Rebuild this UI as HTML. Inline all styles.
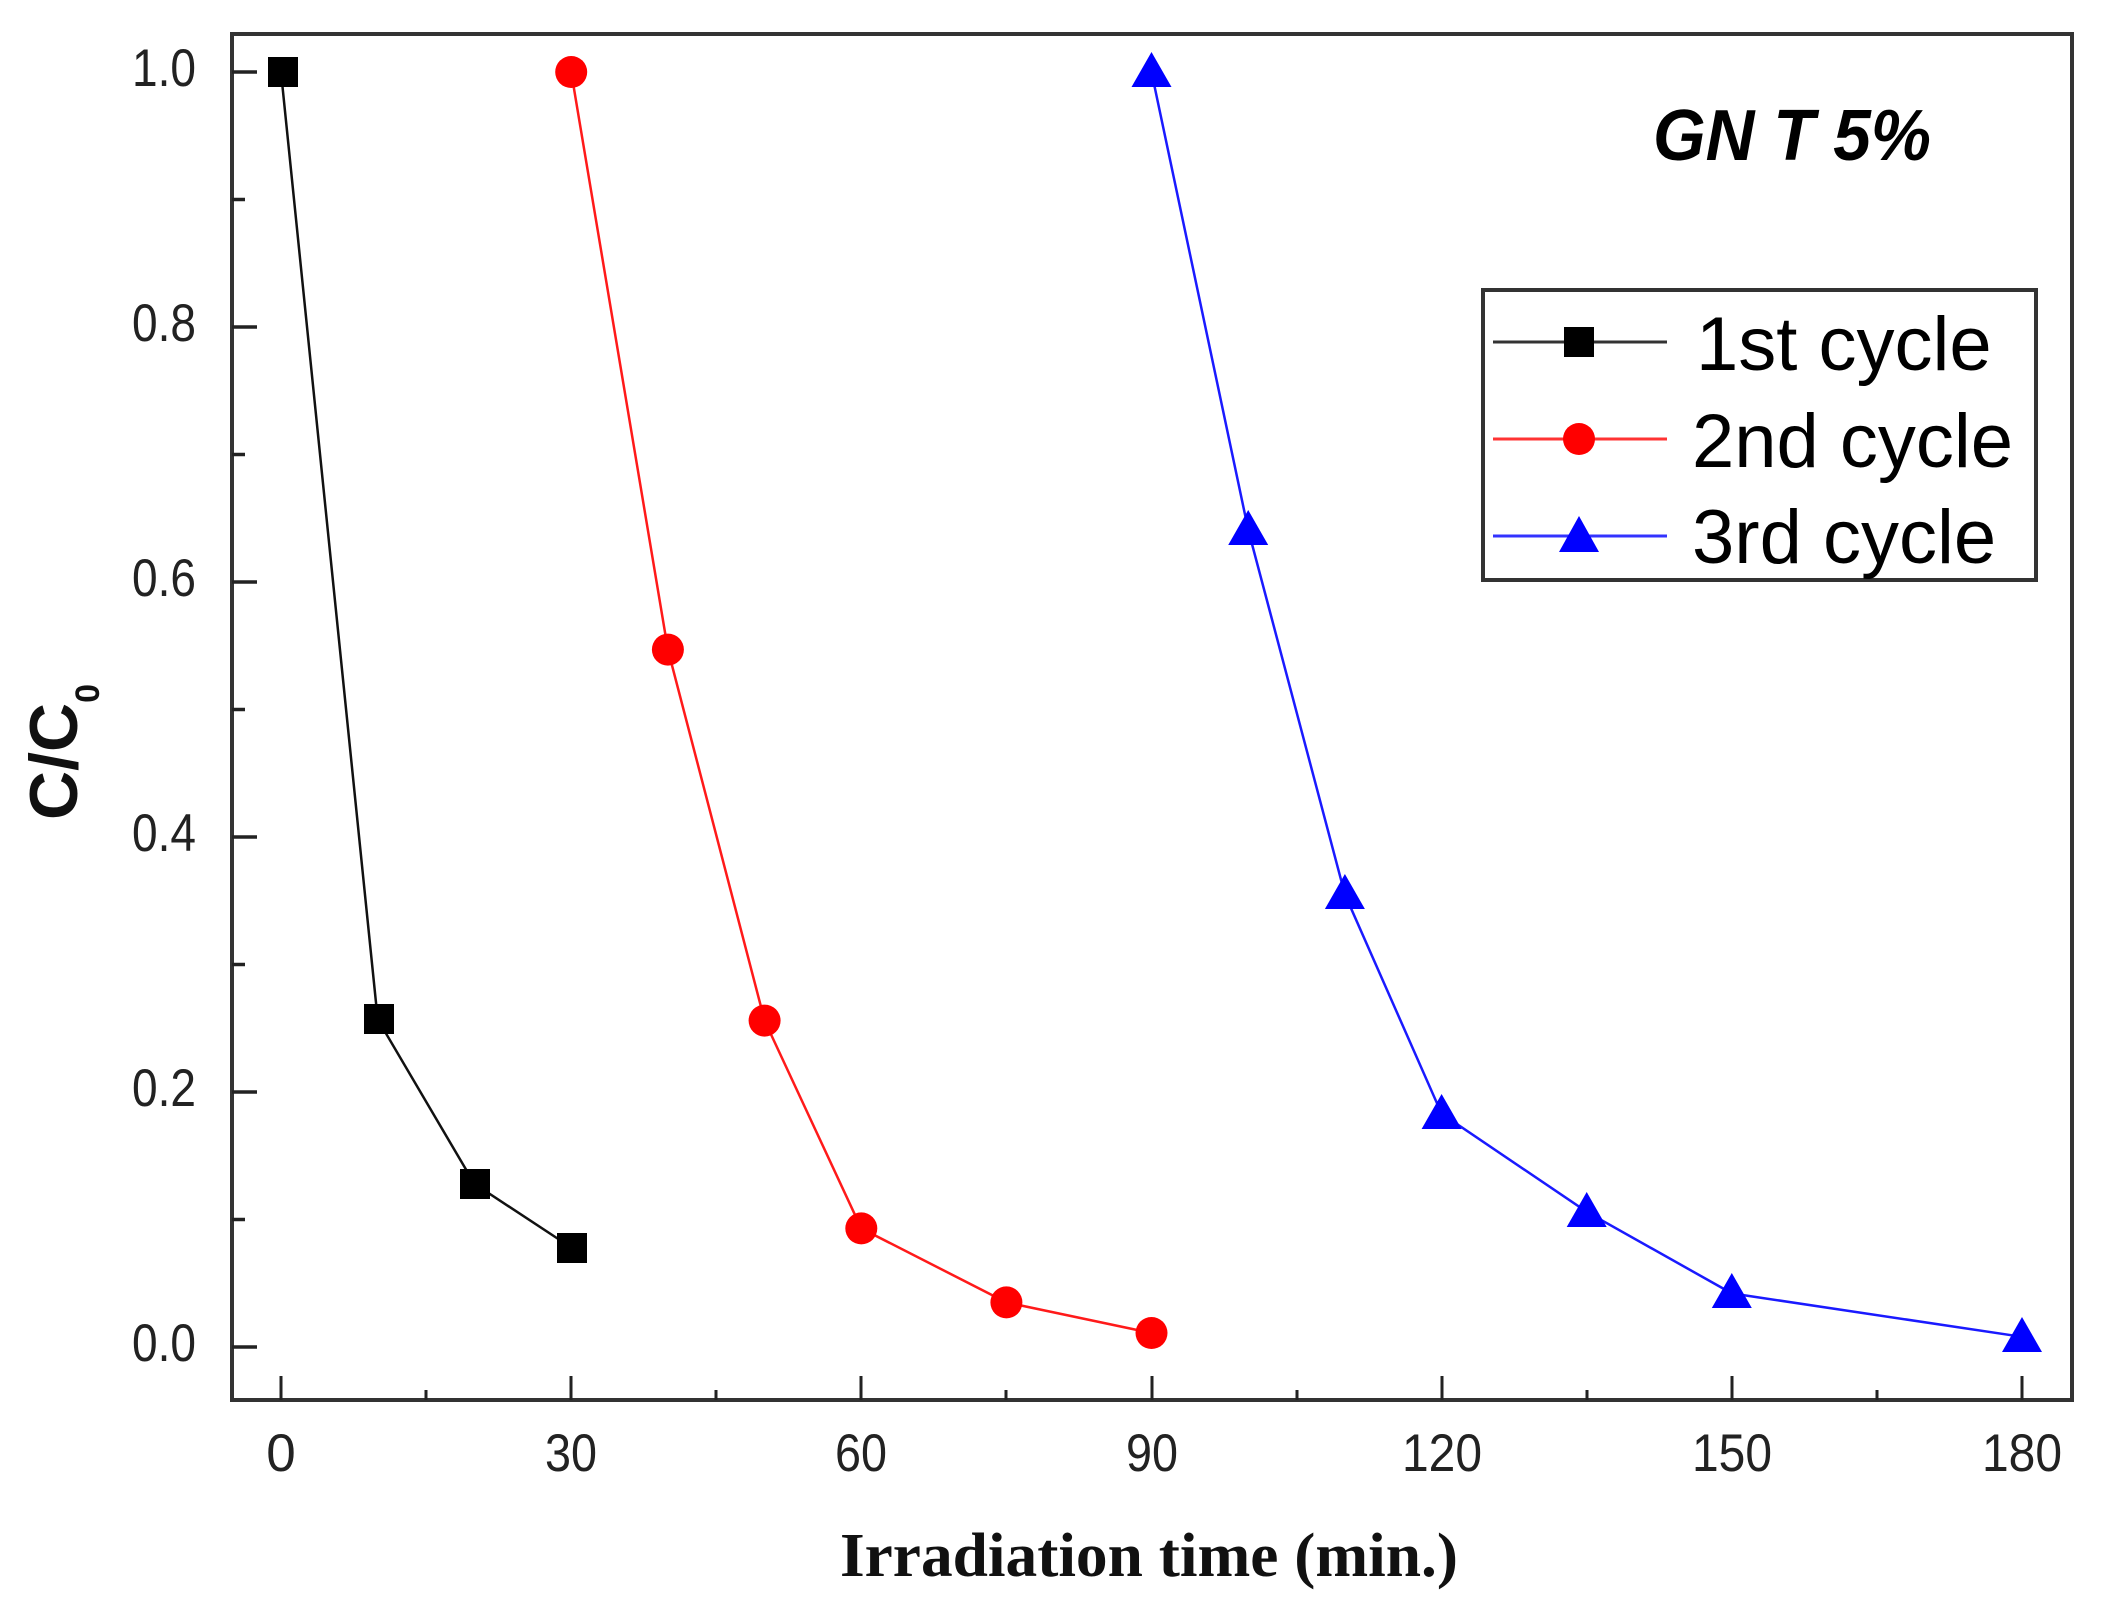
<!DOCTYPE html>
<html><head><meta charset="utf-8"><style>html,body{margin:0;padding:0;background:#fff}svg{display:block}</style></head>
<body>
<svg width="2108" height="1612" viewBox="0 0 2108 1612" xmlns="http://www.w3.org/2000/svg">
<rect width="2108" height="1612" fill="#fff"/>
<!-- frame -->
<rect x="232" y="34" width="1840" height="1366" fill="none" stroke="#333" stroke-width="4"/>
<!-- y ticks -->
<g stroke="#222" stroke-width="3.5">
<line x1="232" y1="72" x2="257" y2="72"/><line x1="232" y1="199.5" x2="245" y2="199.5"/>
<line x1="232" y1="327" x2="257" y2="327"/><line x1="232" y1="454.5" x2="245" y2="454.5"/>
<line x1="232" y1="582" x2="257" y2="582"/><line x1="232" y1="709.5" x2="245" y2="709.5"/>
<line x1="232" y1="837" x2="257" y2="837"/><line x1="232" y1="964.5" x2="245" y2="964.5"/>
<line x1="232" y1="1092" x2="257" y2="1092"/><line x1="232" y1="1219.5" x2="245" y2="1219.5"/>
<line x1="232" y1="1347" x2="257" y2="1347"/>
</g>
<!-- x ticks -->
<g stroke="#222" stroke-width="3">
<line x1="281" y1="1400" x2="281" y2="1376"/><line x1="426" y1="1400" x2="426" y2="1390"/>
<line x1="571" y1="1400" x2="571" y2="1376"/><line x1="716" y1="1400" x2="716" y2="1390"/>
<line x1="861" y1="1400" x2="861" y2="1376"/><line x1="1006" y1="1400" x2="1006" y2="1390"/>
<line x1="1152" y1="1400" x2="1152" y2="1376"/><line x1="1297" y1="1400" x2="1297" y2="1390"/>
<line x1="1442" y1="1400" x2="1442" y2="1376"/><line x1="1587" y1="1400" x2="1587" y2="1390"/>
<line x1="1732" y1="1400" x2="1732" y2="1376"/><line x1="1877" y1="1400" x2="1877" y2="1390"/>
<line x1="2022" y1="1400" x2="2022" y2="1376"/>
</g>
<!-- y tick labels -->
<g font-family="Liberation Sans, sans-serif" font-size="53" fill="#222" text-anchor="end">
<text x="196" y="86" textLength="64" lengthAdjust="spacingAndGlyphs">1.0</text>
<text x="196" y="341" textLength="64" lengthAdjust="spacingAndGlyphs">0.8</text>
<text x="196" y="596" textLength="64" lengthAdjust="spacingAndGlyphs">0.6</text>
<text x="196" y="851" textLength="64" lengthAdjust="spacingAndGlyphs">0.4</text>
<text x="196" y="1106" textLength="64" lengthAdjust="spacingAndGlyphs">0.2</text>
<text x="196" y="1361" textLength="64" lengthAdjust="spacingAndGlyphs">0.0</text>
</g>
<!-- x tick labels -->
<g font-family="Liberation Sans, sans-serif" font-size="53" fill="#222" text-anchor="middle">
<text x="281" y="1471">0</text>
<text x="571" y="1471" textLength="52" lengthAdjust="spacingAndGlyphs">30</text>
<text x="861" y="1471" textLength="52" lengthAdjust="spacingAndGlyphs">60</text>
<text x="1152" y="1471" textLength="52" lengthAdjust="spacingAndGlyphs">90</text>
<text x="1442" y="1471" textLength="80" lengthAdjust="spacingAndGlyphs">120</text>
<text x="1732" y="1471" textLength="80" lengthAdjust="spacingAndGlyphs">150</text>
<text x="2022" y="1471" textLength="80" lengthAdjust="spacingAndGlyphs">180</text>
</g>
<!-- axis titles -->
<text x="840" y="1576" font-family="Liberation Serif, serif" font-weight="bold" font-size="62" fill="#111" textLength="618" lengthAdjust="spacingAndGlyphs">Irradiation time (min.)</text>
<g transform="translate(77,820) rotate(-90)">
<text x="0" y="0" font-family="Liberation Sans, sans-serif" font-weight="bold" font-size="68" fill="#111">C/C<tspan font-size="34" dy="22">0</tspan></text>
</g>
<!-- series lines -->
<polyline fill="none" stroke="#111" stroke-width="2.5" points="281,72 377.7,1019.3 474.4,1183.8 571.2,1247.5"/>
<polyline fill="none" stroke="#ff1a1a" stroke-width="2.5" points="571.2,72 667.9,649.6 764.6,1020.6 861.3,1228.4 1006.4,1302.4 1151.5,1333"/>
<polyline fill="none" stroke="#1a1aff" stroke-width="2.5" points="1151.5,72 1248.2,529.7 1344.9,894.4 1441.6,1113.7 1586.7,1211.8 1731.8,1293.4 2022,1336.8"/>
<!-- markers -->
<g fill="#000">
<rect x="268" y="57" width="30" height="30"/>
<rect x="364" y="1004" width="30" height="30"/>
<rect x="460" y="1169" width="30" height="30"/>
<rect x="557" y="1233" width="30" height="30"/>
</g>
<g fill="#f00">
<circle cx="571.2" cy="72" r="16"/>
<circle cx="667.9" cy="649.6" r="16"/>
<circle cx="764.6" cy="1020.6" r="16"/>
<circle cx="861.3" cy="1228.4" r="16"/>
<circle cx="1006.4" cy="1302.4" r="16"/>
<circle cx="1151.5" cy="1333" r="16"/>
</g>
<g fill="#00f">
<polygon points="1151.5,52 1131.5,87 1171.5,87"/>
<polygon points="1248.2,510 1228.2,545 1268.2,545"/>
<polygon points="1344.9,874 1324.9,909 1364.9,909"/>
<polygon points="1441.6,1094 1421.6,1129 1461.6,1129"/>
<polygon points="1586.7,1192 1566.7,1227 1606.7,1227"/>
<polygon points="1731.8,1273 1711.8,1308 1751.8,1308"/>
<polygon points="2022,1317 2002,1352 2042,1352"/>
</g>
<!-- GNT label -->
<text x="1653" y="160" font-family="Liberation Sans, sans-serif" font-weight="bold" font-style="italic" font-size="72" fill="#000" textLength="278" lengthAdjust="spacingAndGlyphs">GN T 5%</text>
<!-- legend -->
<rect x="1483" y="290" width="553" height="290" fill="#fff" stroke="#333" stroke-width="4"/>
<line x1="1493" y1="342" x2="1667" y2="342" stroke="#333" stroke-width="3"/>
<rect x="1564" y="327" width="30" height="30" fill="#000"/>
<line x1="1493" y1="439" x2="1667" y2="439" stroke="#ff3333" stroke-width="3"/>
<circle cx="1579" cy="439" r="16" fill="#f00"/>
<line x1="1493" y1="536" x2="1667" y2="536" stroke="#3333ff" stroke-width="3"/>
<polygon points="1579,516 1559,552 1599,552" fill="#00f"/>
<g font-family="Liberation Sans, sans-serif" font-size="76" fill="#000">
<text x="1696" y="370">1st cycle</text>
<text x="1692" y="467">2nd cycle</text>
<text x="1692" y="563">3rd cycle</text>
</g>
</svg>
</body></html>
